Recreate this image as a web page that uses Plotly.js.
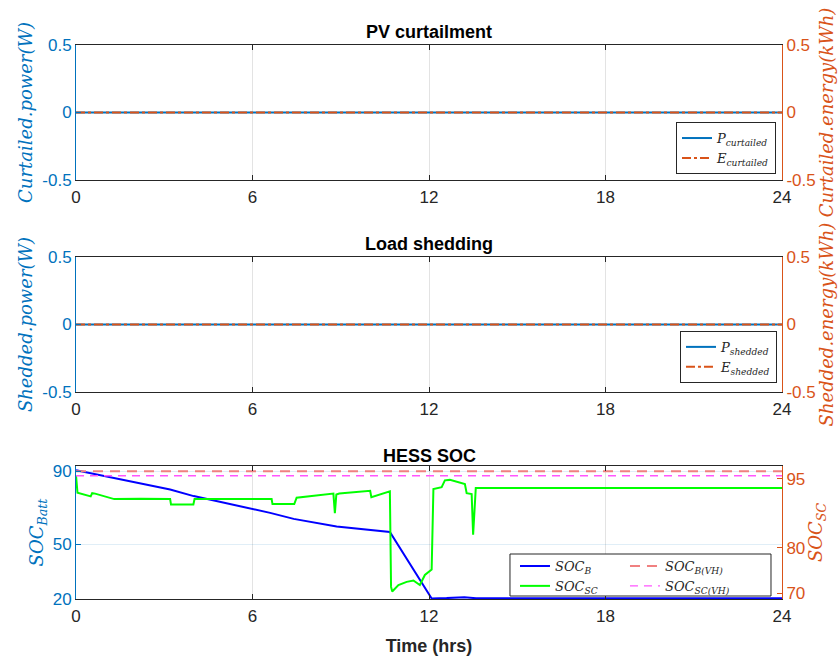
<!DOCTYPE html>
<html>
<head>
<meta charset="utf-8">
<script src="https://cdn.plot.ly/plotly-3.0.1.min.js"></script>
<style>html,body{margin:0;padding:0;background:#fff;}#chart{width:840px;height:659px;}</style>
</head>
<body>
<div id="chart"></div>
<script>
// ---- data ----
const timeFlat = [0, 24];
const pCurtailed = [0, 0];
const eCurtailed = [0, 0];
const pShedded = [0, 0];
const eShedded = [0, 0];

const battTime = [0, 3.2, 4.0, 6.6, 7.4, 8.86, 10.67, 12.09, 12.6, 13.2, 13.6, 24];
const socBatt  = [90.6, 80.0, 76.4, 67.2, 63.9, 59.8, 56.7, 20.3, 20.5, 21.0, 20.4, 20.4];

const scTime = [0, 0.05, 0.5, 0.55, 0.65, 1.3, 2.2, 3.2, 3.23, 3.99, 4.03, 5.2, 6.65, 6.68, 7.42, 7.5,
                8.75, 8.8, 8.85, 8.95, 10.0, 10.04, 10.67, 10.71, 10.75, 10.96, 11.24, 11.47, 11.69,
                11.86, 12.09, 12.15, 12.43, 12.54, 12.71, 13.22, 13.28, 13.45, 13.5, 13.59, 24];
const socSC  = [95.8, 92.0, 91.2, 91.9, 91.8, 90.6, 90.7, 90.6, 89.4, 89.4, 90.6, 90.6, 90.6, 89.5, 89.5, 90.9,
                91.8, 87.5, 91.6, 91.8, 92.4, 91.0, 92.3, 71.4, 70.4, 71.8, 72.5, 72.8, 71.8,
                74.0, 75.2, 92.8, 93.2, 94.7, 94.8, 93.9, 91.9, 91.7, 82.8, 93.0, 93.0];

const vhTime = [0, 24];
const socBattVH = [90, 90];
const socScVH = [95.7, 95.7];

const xTickVals = [0, 6, 12, 18, 24];
const xTickText = ['0', '6', '12', '18', '24'];
const pmTickVals = [-0.5, 0, 0.5];
const pmTickText = ['-0.5', '0', '0.5'];
const battTickVals = [20, 50, 90];
const scTickVals = [70, 80, 95];

// ---- styles ----
const BLUE = '#0072BD', ORANGE = '#D95319', DARK = '#262626';
const sans = 'Liberation Sans, Arial, sans-serif';
const serif = 'DejaVu Serif, serif';

const traces = [
  {x: timeFlat, y: pCurtailed, xaxis: 'x', yaxis: 'y', mode: 'lines', name: 'P<sub>curtailed</sub>',
   line: {color: BLUE, width: 2}, legend: 'legend'},
  {x: timeFlat, y: eCurtailed, xaxis: 'x', yaxis: 'y2', mode: 'lines', name: 'E<sub>curtailed</sub>',
   line: {color: ORANGE, width: 2, dash: 'dashdot'}, legend: 'legend'},
  {x: timeFlat, y: pShedded, xaxis: 'x2', yaxis: 'y3', mode: 'lines', name: 'P<sub>shedded</sub>',
   line: {color: BLUE, width: 2}, legend: 'legend2'},
  {x: timeFlat, y: eShedded, xaxis: 'x2', yaxis: 'y4', mode: 'lines', name: 'E<sub>shedded</sub>',
   line: {color: ORANGE, width: 2, dash: 'dashdot'}, legend: 'legend2'},
  {x: battTime, y: socBatt, xaxis: 'x3', yaxis: 'y5', mode: 'lines', name: 'SOC<sub>B</sub>',
   line: {color: '#0000FF', width: 2}, legend: 'legend3'},
  {x: scTime, y: socSC, xaxis: 'x3', yaxis: 'y6', mode: 'lines', name: 'SOC<sub>SC</sub>',
   line: {color: '#00FF00', width: 2}, legend: 'legend3'},
  {x: vhTime, y: socBattVH, xaxis: 'x3', yaxis: 'y5', mode: 'lines', name: 'SOC<sub>B(VH)</sub>',
   line: {color: '#F08080', width: 2, dash: '10px,7px'}, legend: 'legend4'},
  {x: vhTime, y: socScVH, xaxis: 'x3', yaxis: 'y6', mode: 'lines', name: 'SOC<sub>SC(VH)</sub>',
   line: {color: '#FF55FF', width: 1.3, dash: '8px,6px'}, legend: 'legend4'}
];

function xAxis(domainAnchor, showTitle) {
  const a = {
    domain: [0, 1], anchor: domainAnchor, range: [0, 24], tickvals: xTickVals, ticktext: xTickText,
    ticks: 'inside', ticklen: 5, tickcolor: DARK, showline: true, linecolor: DARK, linewidth: 1,
    mirror: 'ticks', showgrid: true, gridcolor: 'rgba(38,38,38,0.13)', zeroline: false,
    tickfont: {family: sans, size: 17, color: DARK}, ticklabelstandoff: 2, fixedrange: true
  };
  if (showTitle) a.title = {text: 'Time (hrs)', font: {family: sans, size: 18, color: DARK, weight: 'bold'}, standoff: 13};
  return a;
}
function yLeft(dom, anchor, range, tv, tt, title) {
  return {
    domain: dom, anchor: anchor, range: range, tickvals: tv, ticktext: tt,
    ticks: 'inside', ticklen: 5, tickcolor: BLUE, showline: true, linecolor: BLUE, linewidth: 1,
    showgrid: true, gridcolor: 'rgba(0,114,189,0.12)', zeroline: false,
    tickfont: {family: sans, size: 17, color: BLUE},
    title: {text: title, font: {family: serif, size: 18, color: BLUE, style: 'italic'}, standoff: 4}
  };
}
function yRight(overlay, anchor, range, tv, tt, title) {
  return {
    overlaying: overlay, side: 'right', anchor: anchor, range: range, tickvals: tv, ticktext: tt,
    ticks: 'inside', ticklen: 5, tickcolor: ORANGE, showline: true, linecolor: ORANGE, linewidth: 1,
    showgrid: false, zeroline: false,
    tickfont: {family: sans, size: 17, color: ORANGE},
    title: {text: title, font: {family: serif, size: 18, color: ORANGE, style: 'italic'}, standoff: 2}
  };
}

const d1 = [0.7563, 1], d2 = [0.3736, 0.6173], d3 = [0, 0.2401];

const legendFont = {family: serif, size: 13, color: DARK, style: 'italic'};

const layout = {
  width: 840, height: 659,
  margin: {l: 76, r: 58, t: 45, b: 60, pad: 0},
  paper_bgcolor: '#fff', plot_bgcolor: '#fff',
  font: {family: sans, color: DARK},
  xaxis: xAxis('y', false),
  xaxis2: xAxis('y3', false),
  xaxis3: xAxis('y5', true),
  yaxis: yLeft(d1, 'x', [-0.5, 0.5], pmTickVals, pmTickText, 'Curtailed.power(W)'),
  yaxis2: yRight('y', 'x', [-0.5, 0.5], pmTickVals, pmTickText, 'Curtailed.energy(kWh)'),
  yaxis3: yLeft(d2, 'x2', [-0.5, 0.5], pmTickVals, pmTickText, 'Shedded.power(W)'),
  yaxis4: yRight('y3', 'x2', [-0.5, 0.5], pmTickVals, pmTickText, 'Shedded.energy(kWh)'),
  yaxis5: yLeft(d3, 'x3', [20, 92.9], battTickVals, battTickVals.map(String), 'SOC<sub>Batt</sub>'),
  yaxis6: yRight('y5', 'x3', [68.75, 97.84], scTickVals, scTickVals.map(String), 'SOC<sub>SC</sub>'),
  legend: {x: 0.9915, y: 0.767, xanchor: 'right', yanchor: 'bottom', bgcolor: '#fff',
           bordercolor: DARK, borderwidth: 1, font: legendFont, tracegroupgap: 0},
  legend2: {x: 0.9929, y: 0.39, xanchor: 'right', yanchor: 'bottom', bgcolor: '#fff',
            bordercolor: DARK, borderwidth: 1, font: legendFont, tracegroupgap: 0},
  legend3: {x: 0.6218, y: 0.0866, xanchor: 'left', yanchor: 'top', bgcolor: 'rgba(0,0,0,0)',
            borderwidth: 0, font: legendFont},
  legend4: {x: 0.7776, y: 0.0866, xanchor: 'left', yanchor: 'top', bgcolor: 'rgba(0,0,0,0)',
            borderwidth: 0, font: legendFont},
  shapes: [
    {type: 'rect', xref: 'paper', yref: 'paper', x0: 0.6147, x1: 0.9844, y0: 0.0054, y1: 0.0812,
     line: {color: DARK, width: 1}, fillcolor: '#fff', layer: 'above'}
  ],
  annotations: [
    {text: 'PV curtailment', xref: 'paper', yref: 'paper', x: 0.5, y: 1.0235, yanchor: 'middle',
     showarrow: false, font: {family: sans, size: 18, color: '#000', weight: 'bold'}},
    {text: 'Load shedding', xref: 'paper', yref: 'paper', x: 0.5, y: 0.6408, yanchor: 'middle',
     showarrow: false, font: {family: sans, size: 18, color: '#000', weight: 'bold'}},
    {text: 'HESS SOC', xref: 'paper', yref: 'paper', x: 0.5, y: 0.2581, yanchor: 'middle',
     showarrow: false, font: {family: sans, size: 18, color: '#000', weight: 'bold'}}
  ],
  showlegend: true
};

Plotly.newPlot('chart', traces, layout, {staticPlot: true, displayModeBar: false});
</script>
</body>
</html>
